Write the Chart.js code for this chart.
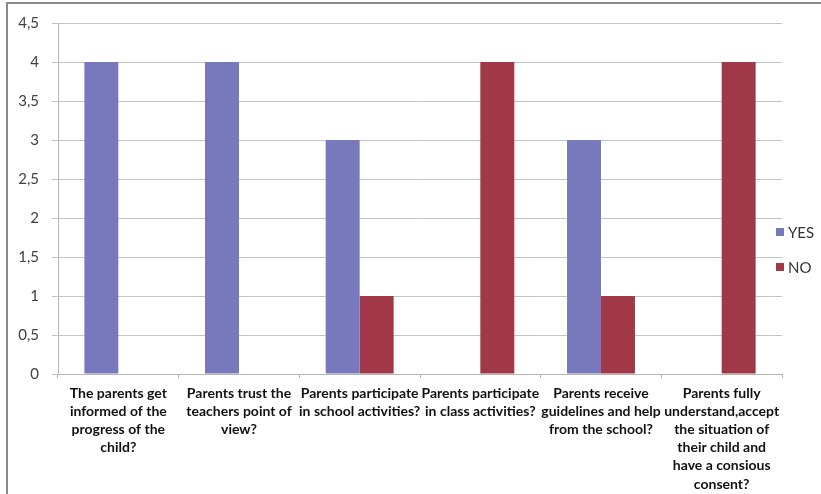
<!DOCTYPE html>
<html>
<head>
<meta charset="utf-8">
<script src="https://cdn.jsdelivr.net/npm/chart.js@4"></script>
<style>
    body { margin: 0; background: #fff; }
    .wrap { position: relative; width: 821px; height: 494px; }
    .frame { position: absolute; left: 6px; top: 2px; right: -10px; bottom: -10px; border-left: 2px solid #8a8a8a; border-top: 2px solid #8a8a8a; pointer-events: none; }
    canvas { position: absolute; left: 0; top: 0; }
</style>
</head>
<body>
<div class="wrap">
    <canvas id="surveyChart" width="821" height="494"></canvas>
    <div class="frame"></div>
</div>
<script>
const categories = [
    ['The parents get', 'informed of the', 'progress of the', 'child?'],
    ['Parents trust the', 'teachers point of', 'view?'],
    ['Parents participate', 'in school activities?'],
    ['Parents participate', 'in class activities?'],
    ['Parents receive', 'guidelines and help', 'from the school?'],
    ['Parents fully', 'understand,accept', 'the situation of', 'their child and', 'have a consious', 'consent?']
]
const yesValues = [4, 4, 3, 0, 3, 0]
const noValues = [0, 0, 1, 4, 1, 4]
const seriesNames = ['YES', 'NO']
const seriesColors = ['#7879bd', '#a03848']

// legend sits partly over the plot, like the original, so draw it by hand
const sideLegend = {
    id: 'sideLegend',
    afterDraw(chart) {
        const ctx = chart.ctx
        const ys = [232, 267]
        ctx.save()
        ctx.font = '15px Lato'
        ctx.textBaseline = 'middle'
        chart.data.datasets.forEach((ds, i) => {
            ctx.fillStyle = ds.backgroundColor
            ctx.fillRect(776, ys[i] - 4, 8, 8)
            ctx.fillStyle = '#333'
            ctx.fillText(ds.label, 788, ys[i] + 1)
        })
        ctx.restore()
    }
}

new Chart(document.getElementById('surveyChart'), {
    type: 'bar',
    data: {
        labels: categories,
        datasets: [
            { label: seriesNames[0], data: yesValues, backgroundColor: seriesColors[0] },
            { label: seriesNames[1], data: noValues, backgroundColor: seriesColors[1] }
        ]
    },
    options: {
        responsive: false,
        animation: false,
        layout: { padding: { top: 23, right: 39, left: 0, bottom: 0 } },
        categoryPercentage: 0.563,
        barPercentage: 1,
        plugins: { legend: { display: false }, tooltip: { enabled: false } },
        scales: {
            x: {
                afterFit: s => { s.height = 120 },
                grid: { drawOnChartArea: false, tickLength: 4, color: '#b5b5b5' },
                border: { color: '#b5b5b5' },
                ticks: {
                    autoSkip: false, maxRotation: 0, padding: 6,
                    color: '#111',
                    font: { family: 'Lato', size: 14, weight: 'bold', lineHeight: 1.3 }
                }
            },
            y: {
                min: 0, max: 4.5,
                afterFit: s => { s.width = 58 },
                grid: { color: '#c4c4c4', tickLength: 6 },
                border: { color: '#b5b5b5' },
                ticks: {
                    stepSize: 0.5, padding: 13, color: '#404040',
                    font: { family: 'Lato', size: 15 },
                    callback: v => String(v).replace('.', ',')
                }
            }
        }
    },
    plugins: [sideLegend]
})
</script>
</body>
</html>
